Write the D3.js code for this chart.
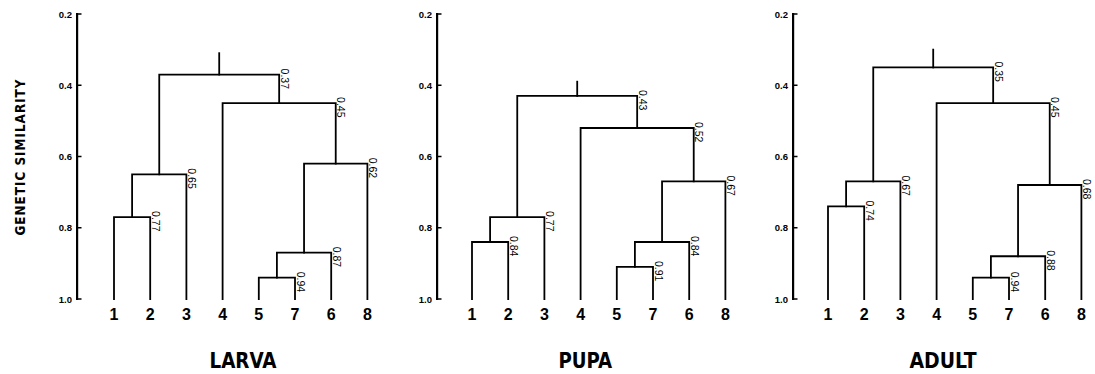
<!DOCTYPE html>
<html>
<head>
<meta charset="utf-8">
<script src="https://cdn.jsdelivr.net/npm/d3@7"></script>
<style>
  html,body{margin:0;padding:0;background:#fff;}
  svg{display:block;}
</style>
</head>
<body>
<svg id="stage" width="1095" height="374"></svg>
<script>
// ---- data ----
const stages    = ["LARVA","PUPA","ADULT"];
const leafOrder = ["1","2","3","4","5","7","6","8"];
const yTicks    = [0.2,0.4,0.6,0.8,1.0];

// [left child, right child, similarity at the join]
const larvaMerges = [["1","2",0.77],["12","3",0.65],["5","7",0.94],["57","6",0.87],
                     ["576","8",0.62],["4","5768",0.45],["123","45768",0.37]];
const pupaMerges  = [["1","2",0.84],["12","3",0.77],["5","7",0.91],["57","6",0.84],
                     ["576","8",0.67],["4","5768",0.52],["123","45768",0.43]];
const adultMerges = [["1","2",0.74],["12","3",0.67],["5","7",0.94],["57","6",0.88],
                     ["576","8",0.68],["4","5768",0.45],["123","45768",0.35]];
const allMerges = [larvaMerges, pupaMerges, adultMerges];
const rootTop   = [0.31, 0.39, 0.30];   // top of the little stem above each root

(function(){
  const svg = d3.select("#stage");

  // panel layout: axis x, first leaf x, title centre
  const axisX  = [77, 437, 793];
  const leaf0  = [114, 472, 828];
  const STEP   = 36.2;
  const titleX = [243, 592, 943];

  const y = d3.scaleLinear().domain([0.2,1.0]).range([14,299]);

  stages.forEach((stage, i)=>{
    const g = svg.append("g").attr("class","panel");
    const x = d3.scalePoint().domain(leafOrder)
      .range([leaf0[i], leaf0[i] + STEP*(leafOrder.length-1)]);

    // ---- y axis labels (d3.axisLeft) ----
    const axis = d3.axisLeft(y).tickValues(yTicks)
      .tickSize(0).tickPadding(5)
      .tickFormat(d3.format(".1f"));
    const ga = g.append("g").attr("transform",`translate(${axisX[i]},0)`).call(axis);
    ga.select(".domain").remove();
    ga.selectAll(".tick line").remove();
    ga.selectAll(".tick text")
      .attr("fill","#000")
      .style("font-family","'Liberation Sans',Arial,sans-serif")
      .style("font-size","9.5px").style("font-weight","bold");

    // axis spine and inward ticks as rects
    const ax = axisX[i];
    g.append("rect").attr("x",ax-1).attr("y",y(0.2)-1)
      .attr("width",2.2).attr("height",y(1.0)-y(0.2)+2).attr("fill","#000");
    g.selectAll("rect.tk").data(yTicks).join("rect").attr("class","tk")
      .attr("x",ax).attr("y",d=>y(d)-0.75).attr("width",4.5).attr("height",1.5)
      .attr("fill","#000");

    const gl = g.append("g").attr("fill","none").attr("stroke","#000")
      .attr("stroke-width",1.8).attr("stroke-linecap","square");

    // ---- dendrogram ----
    const nodes = {};
    leafOrder.forEach(k=> nodes[k] = {x:x(k), y:y(1.0)});
    const gt = g.append("g");

    let root = null;
    allMerges[i].forEach(([a,b,v])=>{
      const A = nodes[a], B = nodes[b], yy = y(v);
      gl.append("path")
        .attr("d",`M${A.x},${A.y}V${yy}H${B.x}V${B.y}`);
      gt.append("text")
        .attr("transform",`translate(${B.x+1.5},${yy-6}) rotate(90)`)
        .style("font-family","'Liberation Sans',Arial,sans-serif")
        .style("font-size","10.5px")
        .text(d3.format(".2f")(v));
      root = nodes[a+b] = {x:(A.x+B.x)/2, y:yy};
    });

    // stem above the root
    gl.append("path").attr("d",`M${root.x},${root.y}V${y(rootTop[i])}`);

    // ---- leaf labels ----
    g.append("g").selectAll("text").data(leafOrder).join("text")
      .attr("x",d=>x(d)).attr("y",320)
      .attr("text-anchor","middle")
      .style("font-family","'Liberation Sans',Arial,sans-serif")
      .style("font-size","16px").style("font-weight","bold")
      .text(d=>d);

    // ---- stage title ----
    g.append("text")
      .attr("x",titleX[i]-33.5).attr("y",368)
      .attr("textLength", stage.length*13.4).attr("lengthAdjust","spacingAndGlyphs")
      .style("font-family","'DejaVu Sans Condensed','DejaVu Sans',sans-serif")
      .style("font-size","22px").style("font-weight","bold")
      .text(stage);
  });

  // ---- y axis title ----
  svg.append("text")
    .attr("transform","translate(25,157) rotate(-90)")
    .attr("text-anchor","middle")
    .attr("textLength",157).attr("lengthAdjust","spacingAndGlyphs")
    .style("font-family","'DejaVu Sans Condensed','DejaVu Sans',sans-serif")
    .style("font-size","13.5px").style("font-weight","bold")
    .style("letter-spacing","1px")
    .text("GENETIC SIMILARITY");
})();
</script>
</body>
</html>
